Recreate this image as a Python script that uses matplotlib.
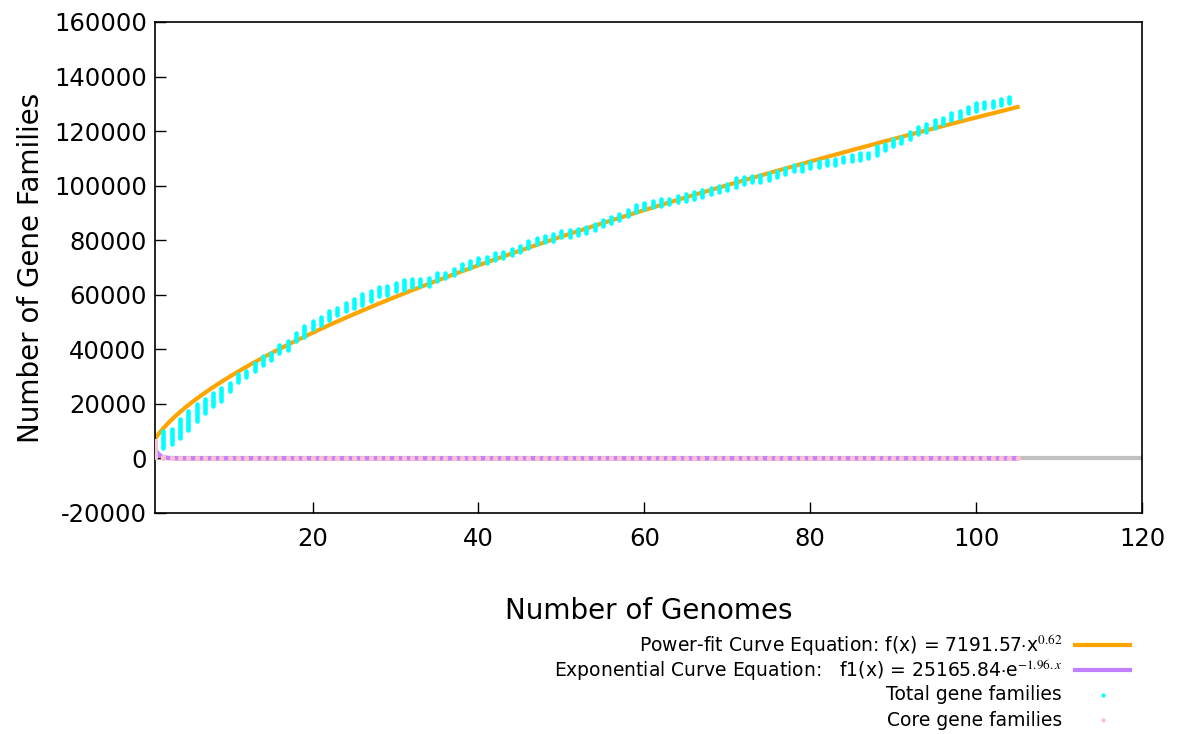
import matplotlib
matplotlib.use("Agg")
import matplotlib.pyplot as plt
from matplotlib.lines import Line2D
import numpy as np

plt.rcParams["font.family"] = ["DejaVu Sans"]
plt.rcParams["mathtext.fontset"] = "stix"
plt.rcParams["axes.unicode_minus"] = False

# pan-genome data: range of gene families over genome combinations (1..105 genomes)
genomes = np.arange(1, 106)
total_high = [6500, 10100, 10700, 14300, 17500, 19800, 21900, 24100, 26000, 27800,
              30800, 32200, 35100, 37700, 38800, 41400, 43200, 46100, 48500, 50500,
              52000, 54200, 55300, 56900, 58300, 60200, 61500, 63000, 63300, 64400,
              65500, 65700, 65700, 66300, 67900, 68100, 69500, 71200, 72400, 73600,
              74000, 75400, 75800, 76900, 77900, 79700, 80900, 81600, 82200, 83400,
              83800, 84200, 85000, 85800, 87300, 88600, 89500, 91100, 92800, 93800,
              94400, 95000, 95200, 96200, 96800, 97700, 98400, 99300, 99900, 100500,
              102900, 103300, 103600, 103800, 104500, 105400, 106600, 107500, 107900, 108500,
              109100, 109500, 109900, 110600, 111100, 111900, 112100, 114600, 115200, 117000,
              117800, 119700, 121600, 122500, 124100, 124900, 126500, 127400, 129000, 130200,
              130700, 131100, 131900, 132600, 132500]
total_low = [600, 3700, 5200, 7400, 10300, 13600, 16600, 19100, 21000, 24600,
             27900, 29800, 32000, 34200, 36000, 38600, 39700, 43000, 44500, 47400,
             48800, 50700, 52500, 54100, 55100, 56300, 57600, 59400, 59900, 61300,
             61800, 62800, 63100, 63100, 65100, 66000, 67300, 69100, 69700, 71200,
             71500, 72800, 73400, 74600, 75600, 77300, 78500, 79200, 79700, 81000,
             81300, 81900, 82500, 83800, 85200, 86200, 87500, 88700, 90500, 91500,
             92000, 92700, 93200, 93900, 94400, 95200, 96000, 96800, 97600, 98400,
             99600, 100500, 101200, 101500, 102200, 103000, 104200, 105200, 105500, 106400,
             106700, 107400, 107600, 108600, 109000, 109500, 110100, 111300, 112900, 114400,
             115500, 117100, 118800, 119800, 121300, 122500, 124100, 124700, 126500, 127500,
             128400, 129000, 129700, 130200, 132500]
core_high = [6500, 600, 300, 250, 220, 200, 190, 180, 170, 160,
             150, 150, 140, 140, 130, 130, 120, 120, 120, 110,
             110, 110, 100, 100, 100, 100, 90, 90, 90, 90,
             90, 80, 80, 80, 80, 80, 80, 70, 70, 70,
             70, 70, 70, 70, 60, 60, 60, 60, 60, 60,
             60, 60, 60, 50, 50, 50, 50, 50, 50, 50,
             50, 50, 50, 50, 50, 40, 40, 40, 40, 40,
             40, 40, 40, 40, 40, 40, 40, 40, 40, 40,
             30, 30, 30, 30, 30, 30, 30, 30, 30, 30,
             30, 30, 30, 30, 30, 30, 30, 30, 30, 30,
             30, 30, 30, 30, 30]
core_low = [600, 100, 50, 40, 30, 30, 30, 30, 30, 30,
            30, 30, 30, 30, 30, 30, 30, 30, 30, 30,
            30, 30, 30, 30, 30, 30, 30, 30, 30, 30,
            30, 30, 30, 30, 30, 30, 30, 30, 30, 30,
            30, 30, 30, 30, 30, 30, 30, 30, 30, 30,
            30, 30, 30, 30, 30, 30, 30, 30, 30, 30,
            30, 30, 30, 30, 30, 30, 30, 30, 30, 30,
            30, 30, 30, 30, 30, 30, 30, 30, 30, 30,
            30, 30, 30, 30, 30, 30, 30, 30, 30, 30,
            30, 30, 30, 30, 30, 30, 30, 30, 30, 30,
            30, 30, 30, 30, 30]

# fitted parameters
pow_a, pow_b = 7191.57, 0.62
exp_a, exp_b = 25165.84, -1.96

xfit = np.linspace(1, 105, 500)
pow_fit = pow_a * xfit ** pow_b
exp_fit = exp_a * np.exp(exp_b * xfit)

W, H = 1179, 734
fig = plt.figure(figsize=(W / 100, H / 100), dpi=100)
ax = fig.add_axes([0.1315, 0.3011, 0.8371, 0.669])

cyan, pink, orange, purple = "#00ffff", "#ffc0cb", "#ffa500", "#c080ff"

ax.axhline(0, color="#c0c0c0", lw=3, zorder=1)
ax.plot(xfit, pow_fit, color=orange, lw=3, zorder=2)
ax.plot(xfit, exp_fit, color=purple, lw=3.2, zorder=3)
ax.vlines(genomes, total_low, total_high, color=cyan, lw=3.3, capstyle="round", zorder=4)
ax.vlines(genomes, core_low, core_high, color=pink, lw=3.3, capstyle="round", zorder=5)
ax.scatter(genomes, core_low, s=14, color=pink, lw=0, zorder=6)
ax.scatter(genomes, core_high, s=14, color=pink, lw=0, zorder=6)

ax.set_xlim(1, 120)
ax.set_ylim(-20000, 160000)
ax.set_xticks([20, 40, 60, 80, 100, 120])
ax.set_yticks(np.arange(-20000, 160001, 20000))
ax.tick_params(direction="in", length=8, width=1, labelsize=17.5, colors="black")
ax.tick_params(axis="x", pad=10)
ax.tick_params(axis="y", pad=6)
for s in ax.spines.values():
    s.set_linewidth(1.2)

ax.set_xlabel("Number of Genomes", fontsize=20, labelpad=33)
ax.set_ylabel("Number of Gene Families", fontsize=20, labelpad=6)

# legend drawn by hand, gnuplot style (text right-aligned, sample on the right)
labels = [
    "Power-fit Curve Equation: f(x) = 7191.57$\\cdot$x$^{0.62}$",
    "Exponential Curve Equation:   f1(x) = 25165.84$\\cdot$e$^{-1.96.x}$",
    "Total gene families",
    "Core gene families",
]
row_y = [645, 670, 695, 720]
for i, (lab, yy) in enumerate(zip(labels, row_y)):
    yf = 1 - yy / H
    fig.text(1062 / W, yf, lab, ha="right", va="center", fontsize=13.5)
    if i < 2:
        fig.add_artist(Line2D([1075 / W, 1130 / W], [yf, yf], color=[orange, purple][i],
                              lw=3, transform=fig.transFigure))
    else:
        fig.add_artist(Line2D([1103 / W], [yf], color=[cyan, pink][i - 2], lw=0,
                              marker="o", markersize=3, markeredgewidth=0,
                              transform=fig.transFigure))

fig.savefig("out.png", dpi=100)
